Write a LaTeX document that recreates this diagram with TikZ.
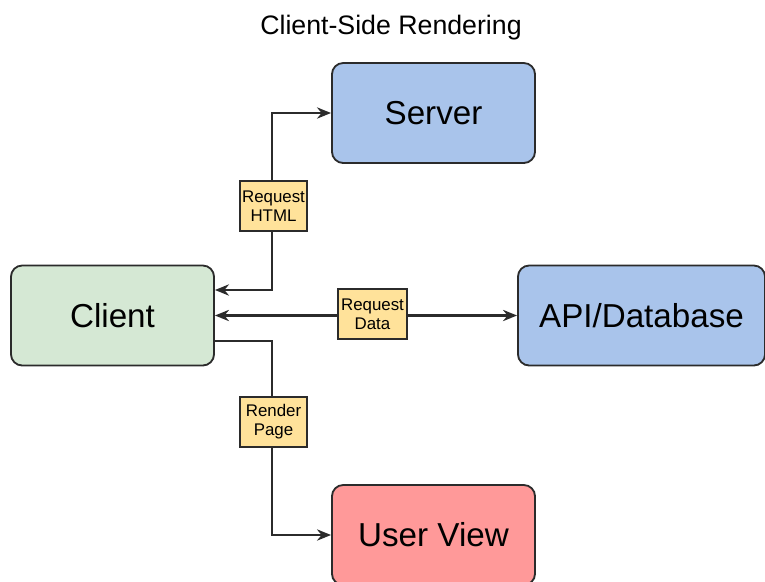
\documentclass[tikz,border=0pt]{standalone}
\usepackage{fontspec}
\setmainfont{Liberation Sans}
\usetikzlibrary{arrows.meta}

\definecolor{srvblue}{HTML}{A9C4EB}
\definecolor{cligreen}{HTML}{D5E8D4}
\definecolor{viewred}{HTML}{FF9999}
\definecolor{tagyellow}{HTML}{FFE29A}
\definecolor{edge}{HTML}{2B2B2B}

\begin{document}
\begin{tikzpicture}[x=0.025cm,y=-0.025cm,
  box/.style={draw=edge,line width=1.3pt,rounded corners=8pt,
    minimum width=5.075cm,minimum height=2.5cm,
    font=\fontsize{23.6}{28}\selectfont},
  tag/.style={draw=edge,fill=tagyellow,line width=1.1pt,align=center,
    minimum width=1.675cm,minimum height=1.25cm,inner sep=1pt,
    font=\fontsize{12}{13.5}\selectfont},
  link/.style={draw=edge,line width=1.5pt,-{Stealth[length=10pt,width=8pt]}},
  both/.style={link,{Stealth[length=10pt,width=8pt]}-{Stealth[length=10pt,width=8pt]}}]
\useasboundingbox (0,0) rectangle (765,581);
\node[font=\fontsize{19}{22}\selectfont] (title) at (391,28) {Client-Side Rendering};
\node[box,fill=srvblue] (server) at (433.5,113) {Server};
\node[box,fill=cligreen] (client) at (112.5,315.5) {Client};
\node[box,fill=srvblue,minimum width=6.175cm] (api) at (641.5,315.5) {API/Database};
\node[box,fill=viewred] (view) at (433.5,535) {User View};
%
\draw[both] ([yshift=0.6375cm]client.east) -| (272,200) |- (server.west);
\draw[both] (client) -- (api);
\draw[link] ([yshift=-0.6375cm]client.east) -| (272,440) |- (view.west);
% labels on the links
\node[tag] (reqhtml) at (273.5,206) {Request\\HTML};
\node[tag,minimum width=1.725cm] (reqdata) at (372.5,314) {Request\\Data};
\node[tag] (render) at (273.5,422) {Render\\Page};
\end{tikzpicture}
\end{document}
